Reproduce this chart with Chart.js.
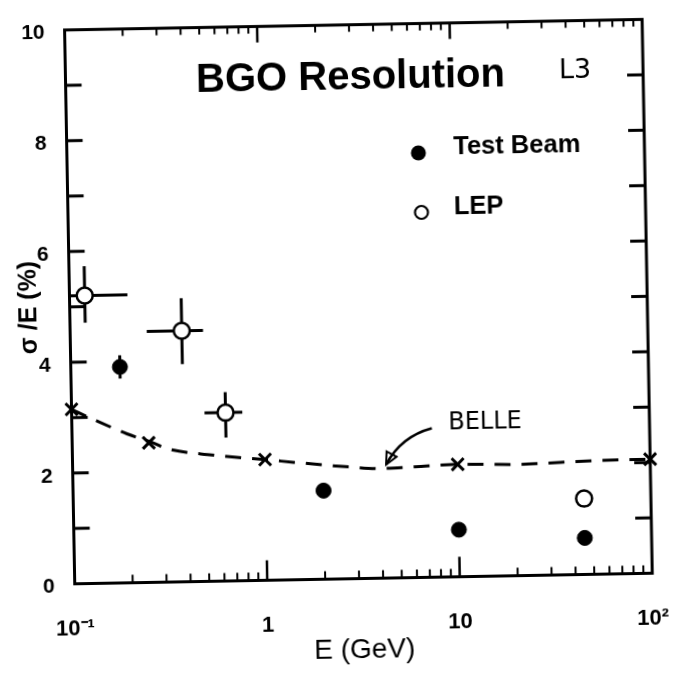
<!DOCTYPE html>
<html>
<head>
<meta charset="utf-8">
<script src="https://cdn.jsdelivr.net/npm/chart.js@4.4.1/dist/chart.umd.min.js"></script>
<style>
  html, body { margin: 0; padding: 0; background: #fff; }
  #wrap { width: 687px; height: 677px; overflow: hidden; }
  /* the scanned original sits about one degree off square */
  canvas { display: block; transform: rotate(-1.05deg); transform-origin: 362px 295px; }
</style>
</head>
<body>
<div id="wrap"><canvas id="chart" width="687" height="677"></canvas></div>
<script>
// Test beam points (filled circles): E in GeV, sigma/E in %
const beamE = [0.18, 2, 10, 45];
const beamSig = [3.9, 1.6, 0.85, 0.66];
const beamSigLo = [3.69, null, null, null];
const beamSigHi = [4.11, null, null, null];

// LEP points (open circles)
const lepE = [0.12, 0.38, 0.63, 45];
const lepSig = [5.2, 4.53, 3.04, 1.37];
const lepELo = [0.1, 0.25, 0.49, null];
const lepEHi = [0.2, 0.49, 0.77, null];
const lepSigLo = [4.71, 3.93, 2.59, null];
const lepSigHi = [5.73, 5.12, 3.41, null];

// Belle crosses and the dashed curve through them
const belleE = [0.1, 0.25, 1, 10, 100];
const belleSig = [3.15, 2.52, 2.18, 2.03, 2.06];
const belleCurveE = [0.1, 0.128, 0.193, 0.262, 0.31, 0.53, 1, 1.5, 2.7, 4, 6, 10, 20, 50, 100];
const belleCurveSig = [3.15, 2.97, 2.69, 2.52, 2.41, 2.28, 2.18, 2.11, 2.02, 1.98, 2.0, 2.03, 2.01, 2.05, 2.06];

// axis ticks
const xMajor = [0.1, 1, 10, 100];
const xMajorLabels = ['10⁻¹', '1', '10', '10²'];
const yLabelled = [0, 2, 4, 6, 8, 10];

const FONT = '"Liberation Sans", Arial, Helvetica, sans-serif';
Chart.defaults.font.family = FONT;
Chart.defaults.color = '#000';

const pts = (xs, ys) => xs.map((v, i) => ({ x: v, y: ys[i] }));

function line(ctx, x1, y1, x2, y2) {
  ctx.beginPath();
  ctx.moveTo(x1, y1);
  ctx.lineTo(x2, y2);
  ctx.stroke();
}

// frame, inward tick marks and error bars
const framePlugin = {
  id: 'frame',
  beforeDatasetsDraw(chart) {
    const { ctx, chartArea: a, scales: { x, y } } = chart;
    ctx.save();
    ctx.strokeStyle = '#000';
    x.ticks.forEach(t => {
      const px = x.getPixelForValue(t.value);
      if (px <= a.left + 1 || px >= a.right - 1) return;
      const lg = Math.log10(t.value);
      const major = Math.abs(lg - Math.round(lg)) < 1e-6;
      ctx.lineWidth = major ? 2.5 : 2;
      line(ctx, px, a.bottom, px, a.bottom - (major ? 20 : 8));
      line(ctx, px, a.top, px, a.top + (major ? 16 : 7));
    });
    y.ticks.forEach(t => {
      const py = y.getPixelForValue(t.value);
      if (py <= a.top + 1 || py >= a.bottom - 1) return;
      ctx.lineWidth = 3;
      line(ctx, a.left, py, a.left + 16, py);
      line(ctx, a.right, py, a.right - 16, py);
    });
    ctx.lineWidth = 3;
    ctx.strokeRect(a.left, a.top, a.width, a.height);

    ctx.lineWidth = 3;
    lepE.forEach((e, i) => {
      const px = x.getPixelForValue(e), py = y.getPixelForValue(lepSig[i]);
      if (lepELo[i] != null) line(ctx, x.getPixelForValue(lepELo[i]), py, x.getPixelForValue(lepEHi[i]), py);
      if (lepSigLo[i] != null) line(ctx, px, y.getPixelForValue(lepSigLo[i]), px, y.getPixelForValue(lepSigHi[i]));
    });
    beamE.forEach((e, i) => {
      if (beamSigLo[i] == null) return;
      const px = x.getPixelForValue(e);
      line(ctx, px, y.getPixelForValue(beamSigLo[i]), px, y.getPixelForValue(beamSigHi[i]));
    });
    ctx.restore();
  }
};

// title, legend and the hand-written notes
const notesPlugin = {
  id: 'notes',
  afterDatasetsDraw(chart) {
    const { ctx, scales: { x, y } } = chart;
    ctx.save();
    ctx.fillStyle = '#000';
    ctx.strokeStyle = '#000';
    ctx.textBaseline = 'middle';

    ctx.textAlign = 'center';
    ctx.font = 'bold 40px ' + FONT;
    ctx.fillText('BGO Resolution', 354.5, 78);

    ctx.font = '27px "DejaVu Sans", sans-serif';
    ctx.fillText('L3', 579, 75);

    // legend
    ctx.textAlign = 'left';
    ctx.font = 'bold 25.5px ' + FONT;
    ctx.beginPath();
    ctx.arc(421, 154, 7.5, 0, Math.PI * 2);
    ctx.fill();
    ctx.fillText('Test Beam', 456, 149);
    ctx.beginPath();
    ctx.arc(423, 213.5, 6.5, 0, Math.PI * 2);
    ctx.lineWidth = 2.2;
    ctx.stroke();
    ctx.fillText('LEP', 455.5, 209);

    // "BELLE" with its arrow
    ctx.textAlign = 'center';
    ctx.font = '24px "DejaVu Sans", sans-serif';
    ctx.fillText('BELLE', x.getPixelForValue(14), y.getPixelForValue(2.77));
    const tx = x.getPixelForValue(7.4), ty = y.getPixelForValue(2.69);
    const cx = x.getPixelForValue(5.1), cy = y.getPixelForValue(2.55);
    const hx = x.getPixelForValue(4.25), hy = y.getPixelForValue(2.05);
    ctx.lineWidth = 2.5;
    ctx.beginPath();
    ctx.moveTo(tx, ty);
    ctx.quadraticCurveTo(cx, cy, hx, hy);
    ctx.stroke();
    const ang = Math.atan2(hy - cy, hx - cx);
    ctx.beginPath();
    ctx.moveTo(hx, hy);
    ctx.lineTo(hx - 13 * Math.cos(ang - 0.45), hy - 13 * Math.sin(ang - 0.45));
    ctx.lineTo(hx - 13 * Math.cos(ang + 0.45), hy - 13 * Math.sin(ang + 0.45));
    ctx.closePath();
    ctx.lineWidth = 2;
    ctx.stroke();
    ctx.restore();
  }
};

new Chart(document.getElementById('chart'), {
  type: 'scatter',
  data: {
    datasets: [
      {
        type: 'line',
        data: pts(belleCurveE, belleCurveSig),
        borderColor: '#000',
        borderWidth: 3,
        borderDash: [16, 11],
        pointRadius: 0,
        cubicInterpolationMode: 'monotone',
        fill: false,
        clip: false,
        order: 4
      },
      {
        data: pts(belleE, belleSig),
        pointStyle: 'crossRot',
        pointRadius: 8.5,
        borderWidth: 3,
        borderColor: '#000',
        clip: false,
        order: 3
      },
      {
        data: pts(beamE, beamSig),
        pointStyle: 'circle',
        pointRadius: 7.5,
        backgroundColor: '#000',
        borderColor: '#000',
        borderWidth: 1,
        order: 2
      },
      {
        data: pts(lepE, lepSig),
        pointStyle: 'circle',
        pointRadius: 8,
        backgroundColor: '#fff',
        borderColor: '#000',
        borderWidth: 2.5,
        order: 1
      }
    ]
  },
  options: {
    responsive: false,
    animation: false,
    events: [],
    layout: { padding: { left: 0, right: 32.5, top: 12, bottom: 0 } },
    plugins: { legend: { display: false }, tooltip: { enabled: false } },
    scales: {
      x: {
        type: 'logarithmic',
        min: 0.1,
        max: 100,
        grid: { display: false },
        border: { display: false },
        afterBuildTicks: scale => {
          const vals = [];
          for (let d = -1; d < 2; d++) {
            for (let m = 1; m < 10; m++) vals.push(m * Math.pow(10, d));
          }
          vals.push(100);
          scale.ticks = vals.map(v => ({ value: v }));
        },
        afterFit: scale => { scale.height = 98.5; },
        ticks: {
          autoSkip: false,
          maxRotation: 0,
          padding: 24,
          font: { size: 22, weight: 'bold' },
          callback: v => {
            const i = xMajor.findIndex(m => Math.abs(m - v) < 1e-9);
            return i < 0 ? '' : xMajorLabels[i];
          }
        },
        title: {
          display: true,
          text: 'E (GeV)',
          font: { size: 28 },
          padding: { top: 0, bottom: 10 }
        }
      },
      y: {
        min: 0,
        max: 10,
        grid: { display: false },
        border: { display: false },
        afterFit: scale => { scale.width = 69.5; },
        ticks: {
          stepSize: 1,
          padding: 12,
          labelOffset: 3,
          font: { size: 21, weight: 'bold' },
          callback: v => (yLabelled.includes(v) ? String(v) : '')
        },
        title: {
          display: true,
          text: 'σ /E (%)',
          font: { size: 25, weight: 'bold' },
          padding: { top: 14, bottom: 0 }
        }
      }
    }
  },
  plugins: [framePlugin, notesPlugin]
});
</script>
</body>
</html>
